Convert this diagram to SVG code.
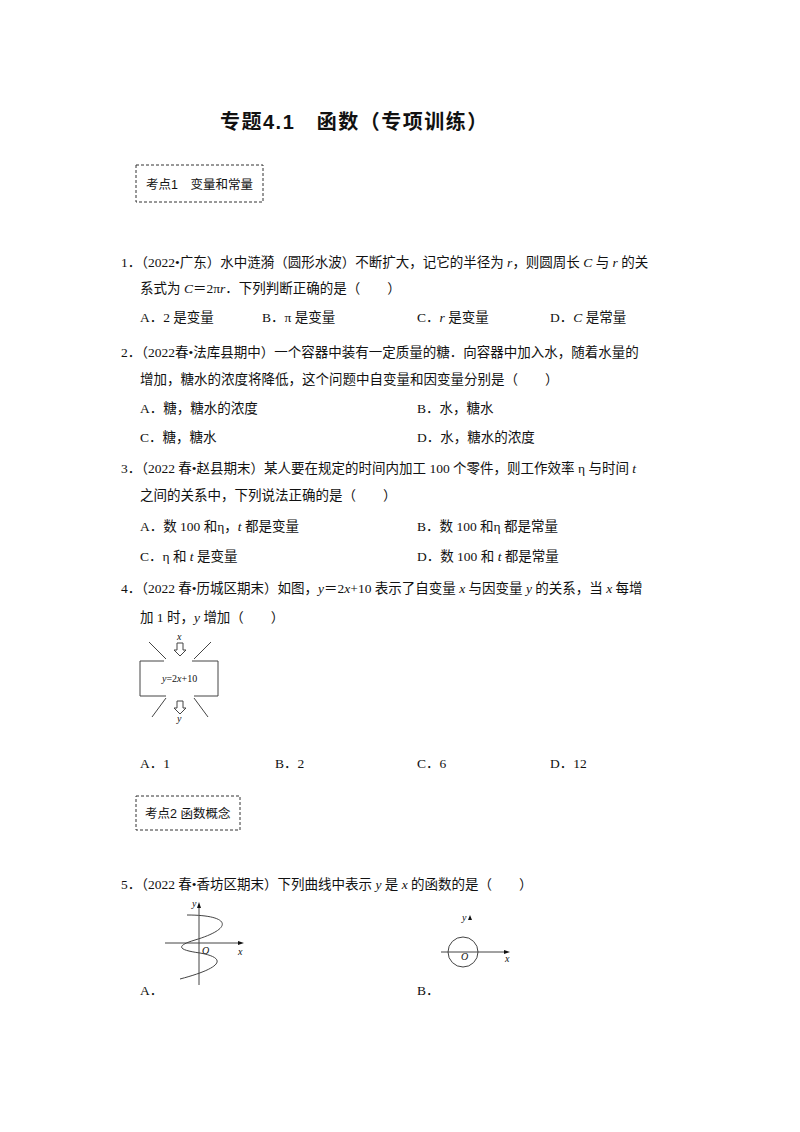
<svg xmlns="http://www.w3.org/2000/svg" width="800" height="1132" viewBox="0 0 800 1132">
<style>
text{font-family:"Liberation Serif","Noto Sans CJK SC",serif;font-size:13.5px;fill:#111}
.t{font-size:20px;font-weight:bold;font-family:"Liberation Sans","Noto Sans CJK SC",sans-serif;letter-spacing:1.5px}
.k{font-family:"Liberation Sans","Noto Sans CJK SC",sans-serif;font-size:12.5px}
.b{fill:none;stroke:#333;stroke-dasharray:3,2;stroke-width:1}
.l{fill:none;stroke:#444;stroke-width:1}
.s{font-size:10px;font-style:italic}
</style>
<rect width="800" height="1132" fill="#fff"/>
<text class="t" x="220" y="129">专题4.1　函数（专项训练）</text>
<g id="k1"><rect class="b" x="136" y="165" width="127" height="37"/><text class="k" x="146" y="189">考点1　变量和常量</text></g>
<text x="121" y="267">1．（2022•广东）水中涟漪（圆形水波）不断扩大，记它的半径为 <tspan font-style="italic">r</tspan>，则圆周长 <tspan font-style="italic">C</tspan> 与 <tspan font-style="italic">r</tspan> 的关</text>
<text x="140" y="293">系式为 <tspan font-style="italic">C</tspan>＝2π<tspan font-style="italic">r</tspan>．下列判断正确的是（　　）</text>
<text x="140" y="322">A．2 是变量</text><text x="262" y="322">B．π 是变量</text><text x="417" y="322">C．<tspan font-style="italic">r</tspan> 是变量</text><text x="550" y="322">D．<tspan font-style="italic">C</tspan> 是常量</text>
<text x="121" y="357">2．（2022春•法库县期中）一个容器中装有一定质量的糖．向容器中加入水，随着水量的</text>
<text x="140" y="384">增加，糖水的浓度将降低，这个问题中自变量和因变量分别是（　　）</text>
<text x="140" y="413">A．糖，糖水的浓度</text><text x="417" y="413">B．水，糖水</text>
<text x="140" y="442">C．糖，糖水</text><text x="417" y="442">D．水，糖水的浓度</text>
<text x="121" y="473">3．（2022 春•赵县期末）某人要在规定的时间内加工 100 个零件，则工作效率 η 与时间 <tspan font-style="italic">t</tspan></text>
<text x="140" y="500">之间的关系中，下列说法正确的是（　　）</text>
<text x="140" y="531">A．数 100 和η，<tspan font-style="italic">t</tspan> 都是变量</text><text x="417" y="531">B．数 100 和η 都是常量</text>
<text x="140" y="561">C．η 和 <tspan font-style="italic">t</tspan> 是变量</text><text x="417" y="561">D．数 100 和 <tspan font-style="italic">t</tspan> 都是常量</text>
<text x="121" y="593">4．（2022 春•历城区期末）如图，<tspan font-style="italic">y</tspan>＝2<tspan font-style="italic">x</tspan>+10 表示了自变量 <tspan font-style="italic">x</tspan> 与因变量 <tspan font-style="italic">y</tspan> 的关系，当 <tspan font-style="italic">x</tspan> 每增</text>
<text x="140" y="622">加 1 时，<tspan font-style="italic">y</tspan> 增加（　　）</text>
<g id="fig4">
<path class="l" d="M164,661H140V696H166M194,696H218V661H192"/>
<path class="l" d="M149,642L166,659M211,642L194,659M166,698L152,717M194,698L208,717"/>
<path class="l" d="M177,643V650H174L180,656L186,650H183V643Z"/>
<path class="l" d="M177,701V708H174L180,714L186,708H183V701Z"/>
<text class="s" x="177" y="640">x</text><text class="s" x="177" y="722">y</text>
<text x="162" y="682" style="font-size:10px"><tspan font-style="italic">y</tspan>=2<tspan font-style="italic">x</tspan>+10</text>
</g>
<text x="140" y="768">A．1</text><text x="275" y="768">B．2</text><text x="417" y="768">C．6</text><text x="550" y="768">D．12</text>
<g id="k2"><rect class="b" x="136" y="796" width="104" height="34"/><text class="k" x="145" y="818">考点2  函数概念</text></g>
<text x="121" y="889">5．（2022 春•香坊区期末）下列曲线中表示 <tspan font-style="italic">y</tspan> 是 <tspan font-style="italic">x</tspan> 的函数的是（　　）</text>
<g id="figA">
<path class="l" d="M199,985V906M165,943H241"/>
<path d="M199,902L197,908H201Z M244,943L238,941V945Z" fill="#111"/>
<path class="l" stroke="#666" d="M187,915C230,915 235,928 195,940C175,946 178,950 200,953C228,958 222,968 180,979"/>
<text class="s" x="192" y="907">y</text><text class="s" x="202" y="954">O</text><text class="s" x="238" y="955">x</text>
</g>
<g id="figB">
<path class="l" d="M441,952H507"/>
<path d="M510,952L504,950V954Z M470,915L468,920H472Z" fill="#111"/>
<circle class="l" cx="463" cy="952" r="15"/>
<text class="s" x="462" y="921">y</text><text class="s" x="461" y="960">O</text><text class="s" x="505" y="962">x</text>
</g>
<text x="140" y="995">A．</text><text x="417" y="995">B．</text>
</svg>
